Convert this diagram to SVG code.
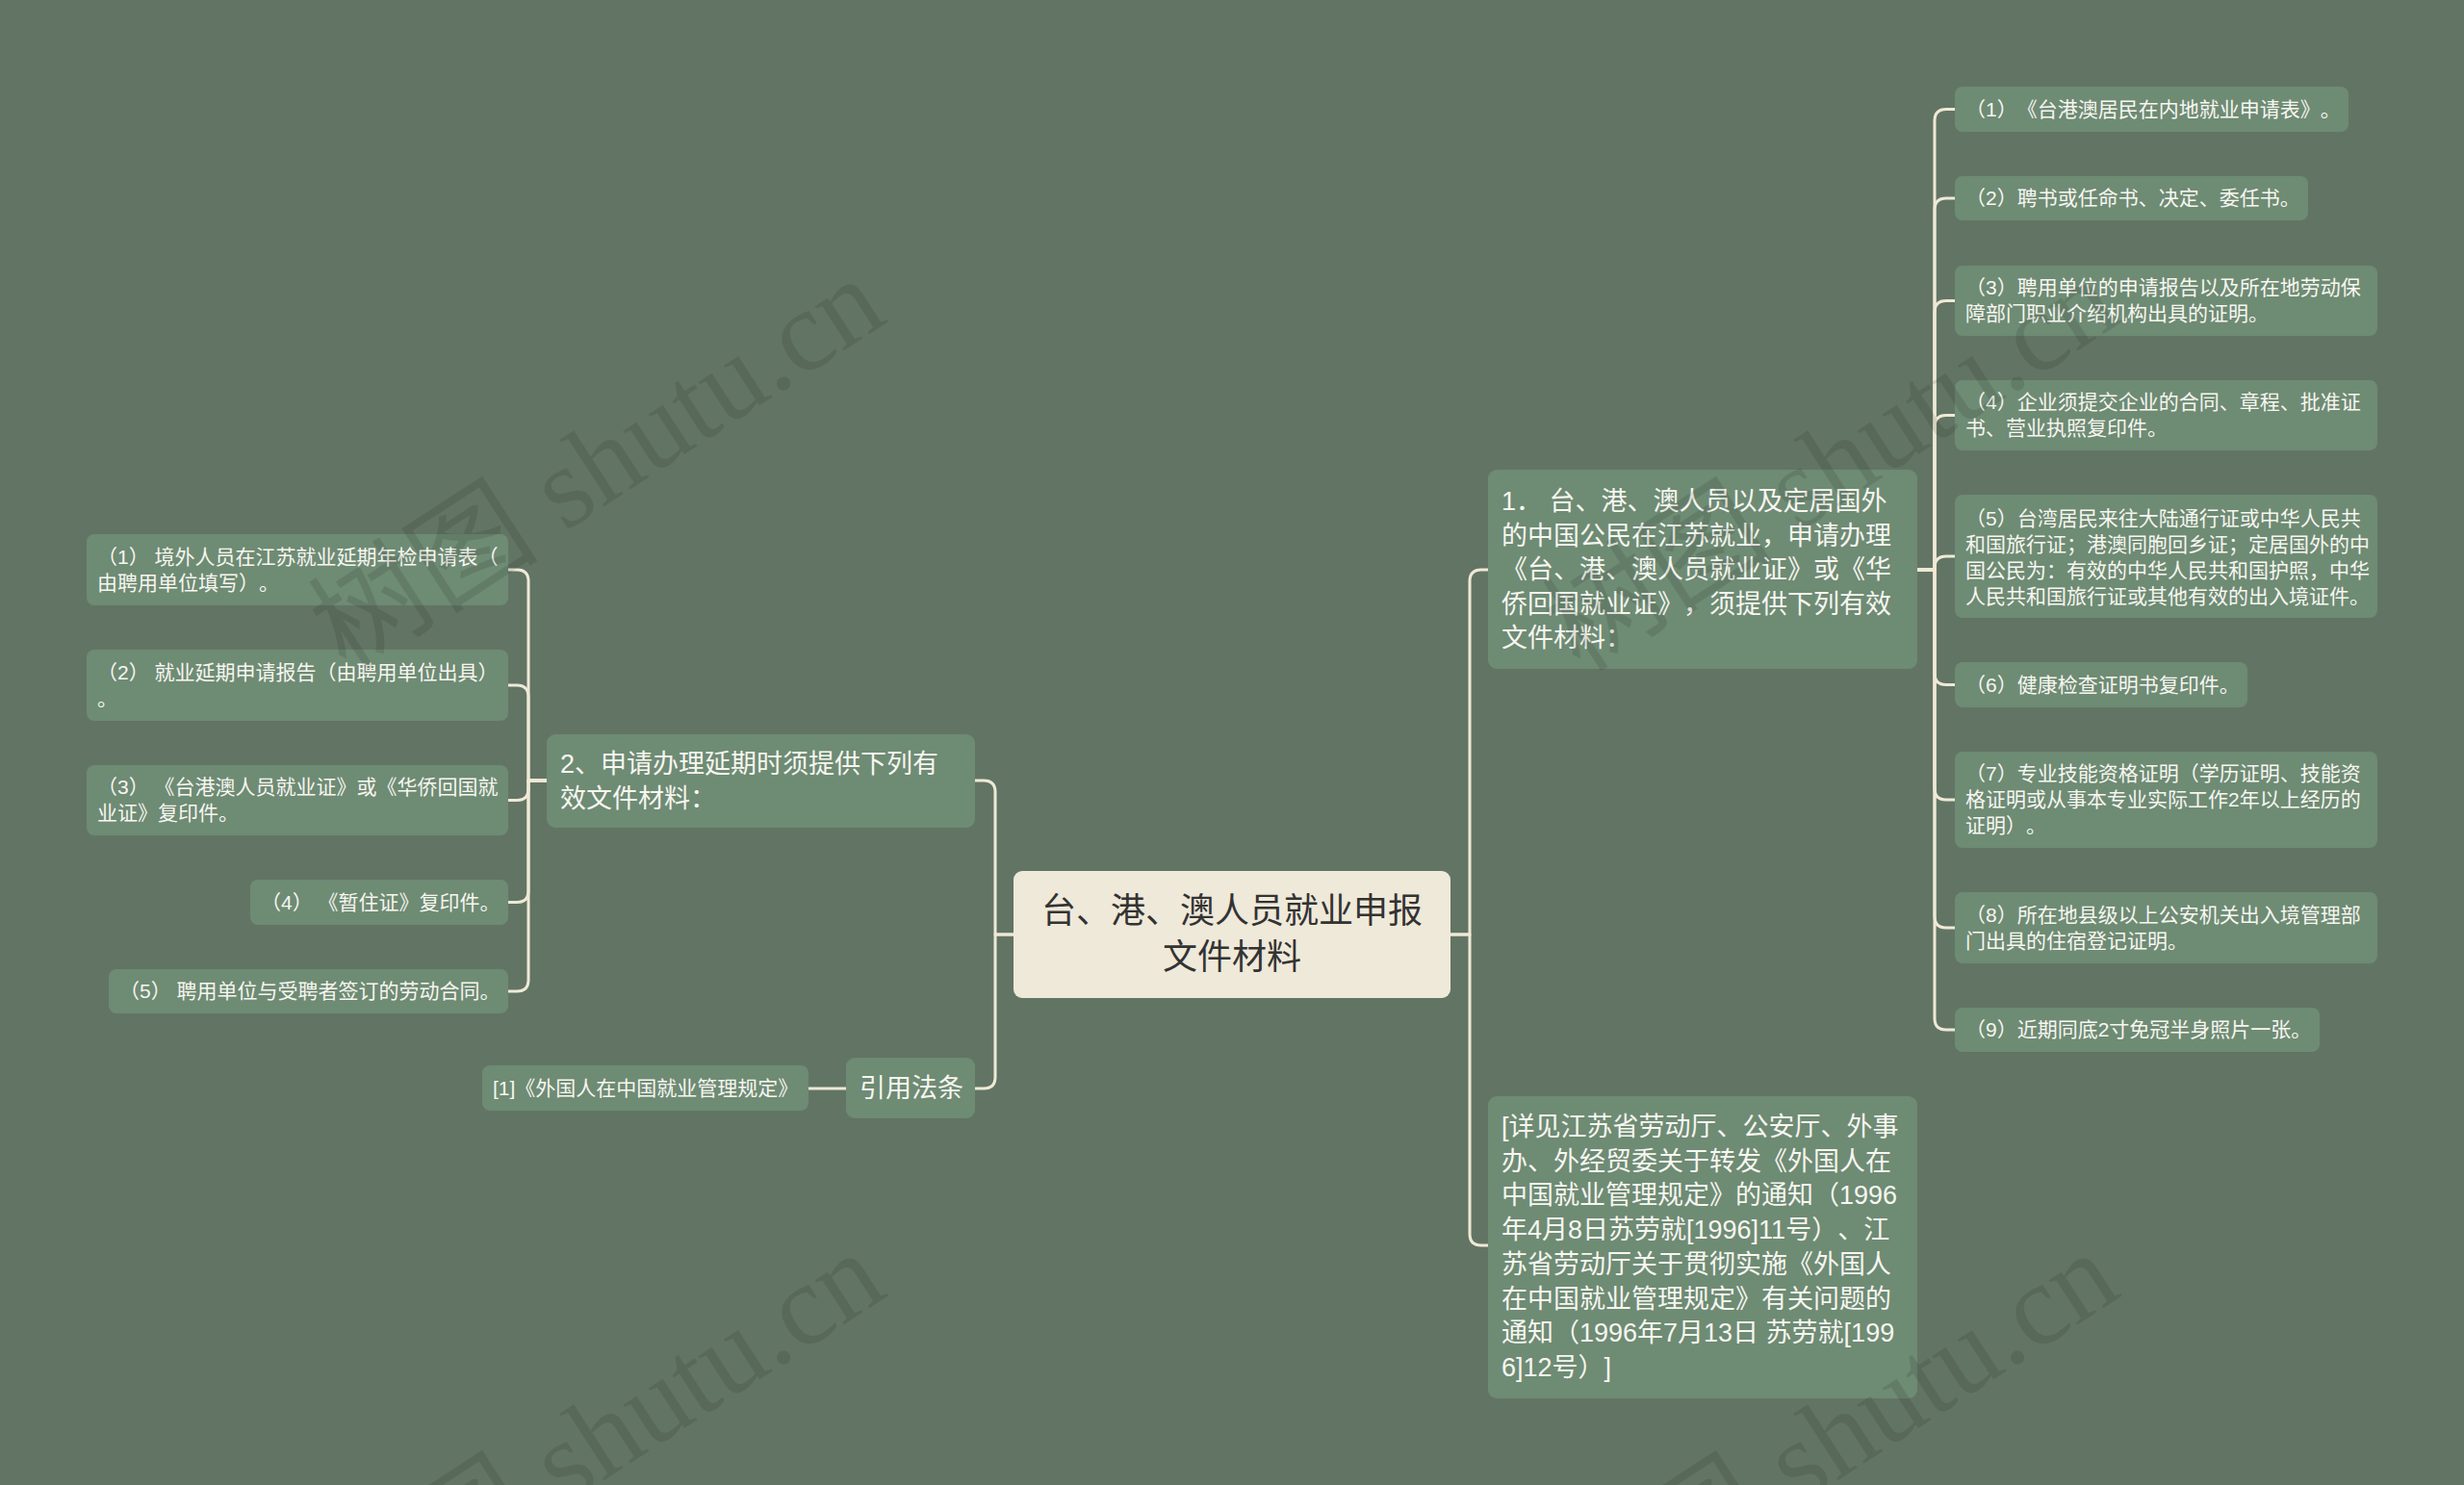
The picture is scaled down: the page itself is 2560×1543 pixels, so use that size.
<svg xmlns="http://www.w3.org/2000/svg" width="2560" height="1543" viewBox="0 0 2560 1543">
<style>
svg,text{text-spacing-trim:space-all}
.bg{fill:#627564}
.n{fill:#6e8b74}
.root{fill:#efe9d9}
.t{font-family:'Liberation Sans','Noto Sans CJK SC',sans-serif;fill:#f7f6f0}
.s{font-size:21px}
.m{font-size:27px}
.rt{font-family:'Liberation Sans','Noto Sans CJK SC',sans-serif;font-size:36px;fill:#333333;text-anchor:middle}
.c{fill:none;stroke:#efe9d6;stroke-width:3;stroke-linecap:round;stroke-linejoin:round}
.wm{font-family:'Liberation Serif','Noto Sans CJK SC',serif;font-size:120px;fill:#000000;fill-opacity:0.1}
</style>
<rect class="bg" x="0" y="0" width="2560" height="1543"/>

<g id="connectors">
<path class="c" d="M1053 971 H1034 V823 Q1034 811 1022 811 H1013"/>
<path class="c" d="M1053 971 H1034 V1119 Q1034 1131 1022 1131 H1013"/>
<path class="c" d="M1507 971 H1527 V604 Q1527 592 1539 592 H1546"/>
<path class="c" d="M1507 971 H1527 V1282 Q1527 1294 1539 1294 H1546"/>
<path class="c" d="M1992 592 H2010 V125.5 Q2010 113.5 2022 113.5 H2031"/>
<path class="c" d="M1992 592 H2010 V218 Q2010 206 2022 206 H2031"/>
<path class="c" d="M1992 592 H2010 V324.5 Q2010 312.5 2022 312.5 H2031"/>
<path class="c" d="M1992 592 H2010 V443.5 Q2010 431.5 2022 431.5 H2031"/>
<path class="c" d="M1992 592 H2010 V590 Q2010 578 2022 578 H2031"/>
<path class="c" d="M1992 592 H2010 V699.5 Q2010 711.5 2022 711.5 H2031"/>
<path class="c" d="M1992 592 H2010 V819 Q2010 831 2022 831 H2031"/>
<path class="c" d="M1992 592 H2010 V952 Q2010 964 2022 964 H2031"/>
<path class="c" d="M1992 592 H2010 V1058 Q2010 1070 2022 1070 H2031"/>
<path class="c" d="M568 811 H549 V604 Q549 592 537 592 H528"/>
<path class="c" d="M568 811 H549 V724 Q549 712 537 712 H528"/>
<path class="c" d="M568 811 H549 V819.5 Q549 831.5 537 831.5 H528"/>
<path class="c" d="M568 811 H549 V925.5 Q549 937.5 537 937.5 H528"/>
<path class="c" d="M568 811 H549 V1018 Q549 1030 537 1030 H528"/>
<path class="c" d="M879 1131 H840"/>
</g>

<g id="root">
<rect class="root" x="1053" y="905" width="454" height="132" rx="9"/>
<text class="rt" x="1280" y="959">台、港、澳人员就业申报</text>
<text class="rt" x="1280" y="1007">文件材料</text>
</g>

<g id="node-r1">
<rect class="n" x="1546" y="488" width="446" height="207" rx="9"/>
<text class="t m" x="1560" y="530">1． 台、港、澳人员以及定居国外</text>
<text class="t m" x="1560" y="565.5">的中国公民在江苏就业，申请办理</text>
<text class="t m" x="1560" y="601">《台、港、澳人员就业证》或《华</text>
<text class="t m" x="1560" y="636.5">侨回国就业证》，须提供下列有效</text>
<text class="t m" x="1560" y="672">文件材料：</text>
</g>

<g id="node-r2">
<rect class="n" x="1546" y="1139" width="446" height="314" rx="9"/>
<text class="t m" x="1560" y="1180">[详见江苏省劳动厅、公安厅、外事</text>
<text class="t m" x="1560" y="1215.7">办、外经贸委关于转发《外国人在</text>
<text class="t m" x="1560" y="1251.4">中国就业管理规定》的通知（1996</text>
<text class="t m" x="1560" y="1287.1">年4月8日苏劳就[1996]11号）、江</text>
<text class="t m" x="1560" y="1322.8">苏省劳动厅关于贯彻实施《外国人</text>
<text class="t m" x="1560" y="1358.5">在中国就业管理规定》有关问题的</text>
<text class="t m" x="1560" y="1394.2">通知（1996年7月13日 苏劳就[199</text>
<text class="t m" x="1560" y="1429.9">6]12号）]</text>
</g>

<g id="node-c1">
<rect class="n" x="2031" y="90" width="409" height="47" rx="8"/>
<text class="t s" x="2042" y="121">（1）《台港澳居民在内地就业申请表》。</text>
</g>
<g id="node-c2">
<rect class="n" x="2031" y="183" width="367" height="46" rx="8"/>
<text class="t s" x="2042" y="213">（2）聘书或任命书、决定、委任书。</text>
</g>
<g id="node-c3">
<rect class="n" x="2031" y="276" width="439" height="73" rx="8"/>
<text class="t s" x="2042" y="306">（3）聘用单位的申请报告以及所在地劳动保</text>
<text class="t s" x="2042" y="333">障部门职业介绍机构出具的证明。</text>
</g>
<g id="node-c4">
<rect class="n" x="2031" y="395" width="439" height="73" rx="8"/>
<text class="t s" x="2042" y="425">（4）企业须提交企业的合同、章程、批准证</text>
<text class="t s" x="2042" y="452">书、营业执照复印件。</text>
</g>
<g id="node-c5">
<rect class="n" x="2031" y="514" width="439" height="128" rx="8"/>
<text class="t s" x="2042" y="545.5">（5）台湾居民来往大陆通行证或中华人民共</text>
<text class="t s" x="2042" y="572.5">和国旅行证；港澳同胞回乡证；定居国外的中</text>
<text class="t s" x="2042" y="599.5">国公民为：有效的中华人民共和国护照，中华</text>
<text class="t s" x="2042" y="626.5">人民共和国旅行证或其他有效的出入境证件。</text>
</g>
<g id="node-c6">
<rect class="n" x="2031" y="688" width="304" height="47" rx="8"/>
<text class="t s" x="2042" y="718.5">（6）健康检查证明书复印件。</text>
</g>
<g id="node-c7">
<rect class="n" x="2031" y="781" width="439" height="100" rx="8"/>
<text class="t s" x="2042" y="811">（7）专业技能资格证明（学历证明、技能资</text>
<text class="t s" x="2042" y="838">格证明或从事本专业实际工作2年以上经历的</text>
<text class="t s" x="2042" y="865">证明）。</text>
</g>
<g id="node-c8">
<rect class="n" x="2031" y="927" width="439" height="74" rx="8"/>
<text class="t s" x="2042" y="957.5">（8）所在地县级以上公安机关出入境管理部</text>
<text class="t s" x="2042" y="984.5">门出具的住宿登记证明。</text>
</g>
<g id="node-c9">
<rect class="n" x="2031" y="1047" width="379" height="46" rx="8"/>
<text class="t s" x="2042" y="1077">（9）近期同底2寸免冠半身照片一张。</text>
</g>

<g id="node-l">
<rect class="n" x="568" y="763" width="445" height="97" rx="9"/>
<text class="t m" x="582" y="803">2、申请办理延期时须提供下列有</text>
<text class="t m" x="582" y="839">效文件材料：</text>
</g>

<g id="node-l1">
<rect class="n" x="90" y="555" width="438" height="74" rx="8"/>
<text class="t s" x="101" y="585.5">（1） 境外人员在江苏就业延期年检申请表（</text>
<text class="t s" x="101" y="612.5">由聘用单位填写）。</text>
</g>
<g id="node-l2">
<rect class="n" x="90" y="675" width="438" height="74" rx="8"/>
<text class="t s" x="101" y="705.5">（2） 就业延期申请报告（由聘用单位出具）</text>
<text class="t s" x="101" y="732.5">。</text>
</g>
<g id="node-l3">
<rect class="n" x="90" y="795" width="438" height="73" rx="8"/>
<text class="t s" x="101" y="825">（3） 《台港澳人员就业证》或《华侨回国就</text>
<text class="t s" x="101" y="852">业证》复印件。</text>
</g>
<g id="node-l4">
<rect class="n" x="260" y="914" width="268" height="47" rx="8"/>
<text class="t s" x="271" y="944.5">（4） 《暂住证》复印件。</text>
</g>
<g id="node-l5">
<rect class="n" x="113" y="1007" width="415" height="46" rx="8"/>
<text class="t s" x="124" y="1037">（5） 聘用单位与受聘者签订的劳动合同。</text>
</g>

<g id="node-law">
<rect class="n" x="879" y="1099" width="134" height="63" rx="9"/>
<text class="t m" x="893" y="1140">引用法条</text>
</g>
<g id="node-law1">
<rect class="n" x="501" y="1107" width="339" height="47" rx="8"/>
<text class="t s" x="512" y="1138">[1]《外国人在中国就业管理规定》</text>
</g>

<g id="watermarks">
<text class="wm" x="360" y="700" transform="rotate(-33 360 700)">树图 shutu.cn</text>
<text class="wm" x="1642" y="700" transform="rotate(-33 1642 700)">树图 shutu.cn</text>
<text class="wm" x="360" y="1712" transform="rotate(-33 360 1712)">树图 shutu.cn</text>
<text class="wm" x="1642" y="1712" transform="rotate(-33 1642 1712)">树图 shutu.cn</text>
</g>
</svg>
